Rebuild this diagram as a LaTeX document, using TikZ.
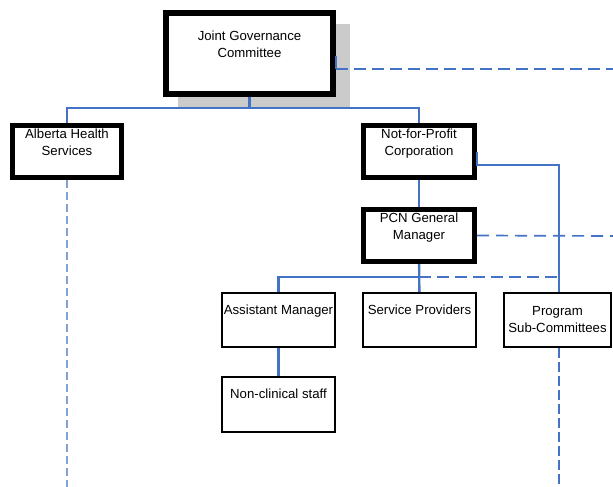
\documentclass[tikz,border=0pt]{standalone}
\usepackage{fontspec}
\setmainfont{Liberation Sans}
\usepackage{xcolor}
\definecolor{OrgBlue}{HTML}{4472C4}
\definecolor{OrgPale}{HTML}{7FA2DA}
\definecolor{ShadowGray}{HTML}{CBCBCB}
\usepackage{tikz}
\usetikzlibrary{positioning}
\usetikzlibrary{calc}
\usetikzlibrary{shadows}

\begin{document}
\begin{tikzpicture}[
    x=1pt, y=-1pt,
    orgBox/.style={rectangle,
    draw=black,
    fill=white,
    line width=2pt,
    minimum width=113pt,
    minimum height=54pt,
    inner sep=0pt},
    orgHeavy/.style={orgBox,
    line width=5pt,
    minimum width=111pt,
    minimum height=52pt},
    boxText/.style={font=\fontsize{13.2}{16.8}\selectfont,
    align=center,
    anchor=north,
    inner sep=0pt},
    solidLink/.style={draw=OrgBlue, line width=2.4pt},
    dashLink/.style={draw=OrgBlue, line width=2.8pt, dash pattern=on 12pt off 6pt},
    thinDash/.style={draw=OrgBlue, line width=1.7pt, dash pattern=on 12pt off 7pt},
    paleDash/.style={draw=OrgPale, line width=1.8pt, dash pattern=on 8pt off 4pt}
    ]
    \useasboundingbox (0,0) rectangle (613,487);
    \node[orgHeavy, line width=6pt, minimum width=167pt, minimum height=81pt,
      general shadow={shadow scale=1.03, shadow xshift=14.5pt, shadow yshift=-12pt, fill=ShadowGray},
      label={[boxText, yshift=-21pt]north:Joint Governance\\Committee}] (1) at (249.5,53.5) {};
    \node[orgHeavy, minimum width=109pt,
      label={[boxText, yshift=-6pt]north:Alberta Health\\Services}] (2) at (67,151.5) {};
    \node[orgHeavy,
      label={[boxText, yshift=-6pt]north:Not-for-Profit\\Corporation}] (3) at (419,151.5) {};
    \node[orgHeavy,
      label={[boxText, yshift=-6pt]north:PCN General\\Manager}] (4) at (419,235.5) {};
    \node[orgBox,
      label={[boxText, yshift=-13pt]north:Service Providers}] (5) at (419.5,320) {};
    \node[orgBox, minimum width=107pt,
      label={[boxText, yshift=-14pt]north:Program\\Sub-Committees}] (6) at (557.5,320) {};
    \node[orgBox,
      label={[boxText, yshift=-13pt]north:Assistant Manager}] (7) at (278.5,320) {};
    \node[orgBox, minimum height=55pt,
      label={[boxText, yshift=-13pt]north:Non-clinical staff}] (8) at (278.5,404.5) {};
    % free ends at the page edges
    \coordinate (1r) at (613,69);
    \coordinate (4r) at (613,236);
    \coordinate (2d) at (67,487);
    \coordinate (6d) at (559,487);
    \coordinate (6n) at ([xshift=1.5pt]6.north);
    \coordinate (6s) at ([xshift=1.5pt]6.south);
    % committee down to the two partners
    \draw[solidLink] (1.south) -- ++(0,11) coordinate (1b) -| (2.north);
    \draw[solidLink] (1b) -| (3.north);
    \draw[solidLink] ([yshift=-2.5pt]1.east) -- ([yshift=-15.5pt]1.east) coordinate (1e);
    \draw[dashLink] (1e) -- (1r);
    % corporation side
    \draw[solidLink] (3.east) -- ++(0,13.5) -| (6n);
    \draw[solidLink] (3) -- (4);
    \draw[thinDash] (4.east) -- (4r);
    \draw[solidLink] (4) -- (5);
    \path (4.south) ++(0,13) coordinate (4b);
    \draw[solidLink] (4b) -| (7.north);
    \draw[dashLink] (4b) -- (4b -| 6n);
    \draw[solidLink] (7) -- (8);
    % dotted reporting lines running off the page
    \draw[paleDash] (2.south) -- (2d);
    \draw[dashLink, dash pattern=on 10pt off 4pt] (6s) -- (6d);
  \end{tikzpicture}
\end{document}
